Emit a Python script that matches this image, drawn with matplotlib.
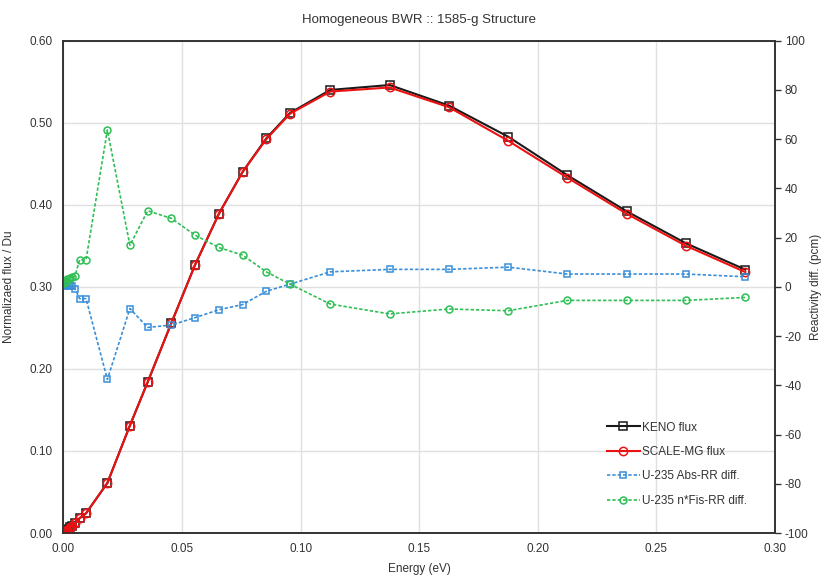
import matplotlib
matplotlib.use("Agg")
import matplotlib.pyplot as plt

plt.rcParams['font.family'] = ['Liberation Sans', 'DejaVu Sans']

# Energy group points (eV)
energy = [0.0003, 0.0007, 0.0011, 0.0016, 0.0022, 0.0028, 0.0035, 0.0048, 0.0068, 0.0095,
          0.0185, 0.028, 0.0355, 0.0455, 0.0555, 0.0655, 0.0755, 0.0855, 0.0955,
          0.1125, 0.1375, 0.1625, 0.1875, 0.2125, 0.2375, 0.2625, 0.2875]

keno_flux = [0.001, 0.002, 0.003, 0.004, 0.005, 0.007, 0.009, 0.012, 0.018, 0.024,
             0.061, 0.131, 0.184, 0.256, 0.327, 0.389, 0.440, 0.481, 0.512,
             0.540, 0.546, 0.521, 0.483, 0.436, 0.392, 0.353, 0.321]

scale_flux = [0.001, 0.002, 0.003, 0.004, 0.005, 0.007, 0.009, 0.012, 0.018, 0.024,
              0.061, 0.131, 0.184, 0.256, 0.327, 0.389, 0.440, 0.480, 0.511,
              0.538, 0.543, 0.519, 0.478, 0.433, 0.389, 0.350, 0.318]

abs_rr_diff = [0.3, 0.5, 0.8, 1.0, 0.8, 0.5, 0.2, -0.7, -4.8, -4.8,
               -37.6, -8.8, -16.5, -15.5, -12.5, -9.3, -7.2, -1.8, 1.1,
               6.1, 7.1, 7.1, 8.0, 5.2, 5.2, 5.2, 4.1]

fis_rr_diff = [1.5, 2.0, 2.5, 3.0, 3.2, 3.5, 4.0, 4.3, 11.0, 11.0,
               63.7, 16.9, 30.9, 27.8, 21.0, 16.0, 12.9, 6.1, 1.1,
               -7.0, -11.0, -9.0, -9.7, -5.5, -5.5, -5.5, -4.3]

x_ticks = [0.00, 0.05, 0.10, 0.15, 0.20, 0.25, 0.30]
left_ticks = [0.0, 0.1, 0.2, 0.3, 0.4, 0.5, 0.6]
right_ticks = [-100, -80, -60, -40, -20, 0, 20, 40, 60, 80, 100]

fig = plt.figure(figsize=(8.24, 5.76), dpi=100)
ax = fig.add_axes([63.5/824, 1-533/576, (775-63.5)/824, (533-40.7)/576])
ax2 = ax.twinx()

h1, = ax.plot(energy, keno_flux, color='#1a1a1a', lw=1.5, marker='s', ms=6,
              mfc='none', mec='#1a1a1a', mew=1.1, label='KENO flux', zorder=3)
h2, = ax.plot(energy, scale_flux, color='#ee1111', lw=1.5, marker='o', ms=6,
              mfc='none', mec='#ee1111', mew=1.1, label='SCALE-MG flux', zorder=4)
h3, = ax2.plot(energy, abs_rr_diff, color='#3a8fd8', lw=1.2, ls=(0, (2, 1.2)), marker='s', ms=5,
               mfc='none', mec='#3a8fd8', mew=1.1, label='U-235 Abs-RR diff.')
h4, = ax2.plot(energy, fis_rr_diff, color='#2fbf55', lw=1.2, ls=(0, (2, 1.2)), marker='o', ms=5,
               mfc='none', mec='#2fbf55', mew=1.1, label='U-235 n*Fis-RR diff.')

ax.set_xlim(0, 0.30)
ax.set_ylim(0, 0.60)
ax2.set_ylim(-100, 100)
ax.set_xticks(x_ticks)
ax.set_xticklabels([f"{t:.2f}" for t in x_ticks])
ax.set_yticks(left_ticks)
ax.set_yticklabels([f"{t:.2f}" for t in left_ticks])
ax2.set_yticks(right_ticks)
ax2.set_yticklabels([str(t) for t in right_ticks])

ax.grid(True, color='#e0e0e0', lw=1.0)
ax.set_axisbelow(True)
for a in (ax, ax2):
    for s in a.spines.values():
        s.set_color('#333333')
        s.set_linewidth(1.2)

ax.tick_params(axis='both', length=0, labelsize=8.5, colors='#333333', pad=8)
ax.tick_params(axis='x', pad=7)
ax2.tick_params(axis='y', direction='out', length=4, width=1, labelsize=8.5,
                colors='#333333', pad=3)

ax.set_xlabel('Energy (eV)', fontsize=8.5, color='#333333', labelpad=6)
ax.set_ylabel('Normalizaed flux / Du', fontsize=8.5, color='#333333', labelpad=10)
ax2.set_ylabel('Reactivity diff. (pcm)', fontsize=8.5, color='#333333', labelpad=1)
ax.set_title('Homogeneous BWR :: 1585-g Structure', fontsize=9.5, color='#333333', pad=13)

fig.legend(handles=[h1, h2, h3, h4], loc='upper left',
           bbox_to_anchor=(596/824, 1-411/576), frameon=False,
           fontsize=8.5, handlelength=2.8, handletextpad=0.2, labelspacing=1.05,
           labelcolor='#333333')

fig.savefig('out.png', dpi=100)
